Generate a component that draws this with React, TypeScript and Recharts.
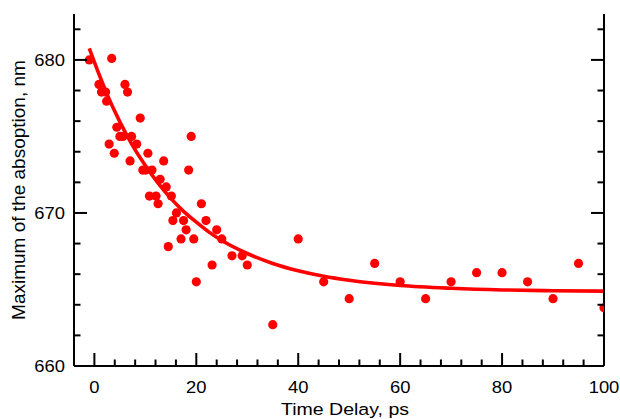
import React from "react";
import { ComposedChart, Scatter, Line, XAxis, YAxis } from "recharts";

// Measured data points (time delay, ps ; absorption maximum, nm)
const pointX = [
  -1.0, 3.4, 0.9, 1.4, 2.2, 2.4, 6.0, 6.5, 9.0, 4.4, 5.0, 5.6, 7.3, 2.9, 3.9, 8.3, 7.0,
  10.5, 13.6, 9.5, 10.1, 11.3, 19.0, 18.5, 12.9, 14.1, 10.8, 12.1, 15.1, 12.5, 21.0,
  16.1, 15.4, 17.5, 18.0, 21.9, 24.0, 17.0, 19.5, 25.0, 14.5, 27.0, 29.0, 30.0, 23.1,
  20.0, 35.0, 40.0, 45.0, 50.0, 55.0, 60.0, 65.0, 70.0, 75.0, 80.0, 85.0, 90.0, 95.0, 100.0,
];
const pointY = [
  680.0, 680.1, 678.4, 677.9, 677.9, 677.3, 678.4, 677.9, 676.2, 675.6, 675.0, 675.0, 675.0,
  674.5, 673.9, 674.5, 673.4, 673.9, 673.4, 672.8, 672.8, 672.8, 675.0, 672.8, 672.2, 671.7,
  671.1, 671.1, 671.1, 670.6, 670.6, 670.0, 669.5, 669.5, 668.9, 669.5, 668.9, 668.3, 668.3,
  668.3, 667.8, 667.2, 667.2, 666.6, 666.6, 665.5, 662.7, 668.3, 665.5, 664.4, 666.7, 665.5,
  664.4, 665.5, 666.1, 666.1, 665.5, 664.4, 666.7, 663.8,
];

// Fitted curve
const fitX = [-1, 0, 2.5, 5, 7.5, 10, 12.5, 15, 17.5, 20, 22.5, 25, 30, 35, 40, 45, 50, 60, 70, 80, 90, 100];
const fitY = [
  680.75, 679.85, 677.75, 675.95, 674.4, 673.1, 671.95, 670.95, 670.1, 669.4, 668.75, 668.2,
  667.35, 666.7, 666.22, 665.86, 665.6, 665.26, 665.08, 664.97, 664.92, 664.89,
];

const xTicks = [0, 4, 8, 12, 16, 20, 24, 28, 32, 36, 40, 44, 48, 52, 56, 60, 64, 68, 72, 76, 80, 84, 88, 92, 96, 100];
const xMajor = [0, 20, 40, 60, 80, 100];
const yTicks = [660, 662, 664, 666, 668, 670, 672, 674, 676, 678, 680, 682];
const yMajor = [660, 670, 680];

const points = pointX.map((x, i) => ({ x, y: pointY[i] }));
const fit = fitX.map((x, i) => ({ x, y: fitY[i] }));

const RED = "#ff0000";
const FONT = "'Liberation Sans', Arial, sans-serif";
const MAJOR = 13;
const MINOR = 6.5;

const BottomTick = (props: any) => {
  const { x, y, payload } = props;
  const major = xMajor.includes(payload.value);
  return (
    <g>
      <line x1={x} y1={y} x2={x} y2={y - (major ? MAJOR : MINOR)} stroke="#000" strokeWidth={2} />
      {major && (
        <text
          transform={`translate(${x},${y + 27}) scale(1.15,1)`}
          textAnchor="middle"
          fontSize={16}
          fontFamily={FONT}
          fill="#000"
        >
          {payload.value}
        </text>
      )}
    </g>
  );
};

const TopTick = (props: any) => {
  const { x, y, payload } = props;
  const major = xMajor.includes(payload.value);
  return <line x1={x} y1={y} x2={x} y2={y + (major ? MAJOR : MINOR)} stroke="#000" strokeWidth={2} />;
};

const LeftTick = (props: any) => {
  const { x, y, payload } = props;
  const major = yMajor.includes(payload.value);
  return (
    <g>
      <line x1={x} y1={y} x2={x + (major ? MAJOR : MINOR)} y2={y} stroke="#000" strokeWidth={2} />
      {major && (
        <text
          transform={`translate(${x - 9},${y + 6}) scale(1.15,1)`}
          textAnchor="end"
          fontSize={16}
          fontFamily={FONT}
          fill="#000"
        >
          {payload.value}
        </text>
      )}
    </g>
  );
};

const RightTick = (props: any) => {
  const { x, y, payload } = props;
  const major = yMajor.includes(payload.value);
  return <line x1={x} y1={y} x2={x - (major ? MAJOR : MINOR)} y2={y} stroke="#000" strokeWidth={2} />;
};

const Dot = (props: any) => <circle cx={props.cx} cy={props.cy} r={4.6} fill={RED} />;

export default function App() {
  return (
    <div style={{ position: "absolute", left: 0, top: 0, width: 620, height: 419, background: "#fff" }}>
      <ComposedChart width={620} height={419} data={points} margin={{ top: 14, right: 0, bottom: 0, left: 0 }}>
        <XAxis
          xAxisId="bottom"
          dataKey="x"
          type="number"
          domain={[-4, 100]}
          allowDataOverflow
          ticks={xTicks}
          interval={0}
          height={53}
          tickSize={0}
          tickMargin={0}
          tickLine={false}
          axisLine={{ stroke: "#000", strokeWidth: 2 }}
          tick={<BottomTick />}
        />
        <XAxis
          xAxisId="top"
          orientation="top"
          dataKey="x"
          type="number"
          domain={[-4, 100]}
          allowDataOverflow
          ticks={xTicks}
          interval={0}
          height={0}
          tickSize={0}
          tickMargin={0}
          tickLine={false}
          axisLine={{ stroke: "#000", strokeWidth: 2 }}
          tick={<TopTick />}
        />
        <YAxis
          yAxisId="left"
          type="number"
          domain={[660, 683]}
          allowDataOverflow
          ticks={yTicks}
          interval={0}
          width={74}
          tickSize={0}
          tickMargin={0}
          tickLine={false}
          axisLine={{ stroke: "#000", strokeWidth: 2 }}
          tick={<LeftTick />}
        />
        <YAxis
          yAxisId="right"
          orientation="right"
          type="number"
          domain={[660, 683]}
          allowDataOverflow
          ticks={yTicks}
          interval={0}
          width={16}
          tickSize={0}
          tickMargin={0}
          tickLine={false}
          axisLine={{ stroke: "#000", strokeWidth: 2 }}
          tick={<RightTick />}
        />
        <Scatter
          xAxisId="bottom"
          yAxisId="left"
          data={points}
          dataKey="y"
          shape={<Dot />}
          isAnimationActive={false}
        />
        <Line
          xAxisId="top"
          yAxisId="right"
          data={fit}
          dataKey="y"
          type="monotone"
          stroke={RED}
          strokeWidth={3.6}
          dot={false}
          activeDot={false}
          isAnimationActive={false}
        />
        <text
          transform="translate(345,415) scale(1.15,1)"
          textAnchor="middle"
          fontSize={17}
          fontFamily={FONT}
          fill="#000"
        >
          Time Delay, ps
        </text>
        <text
          transform="translate(25,190) rotate(-90)"
          textAnchor="middle"
          fontSize={19}
          fontFamily={FONT}
          fill="#000"
        >
          Maximum of the absoption, nm
        </text>
      </ComposedChart>
    </div>
  );
}
